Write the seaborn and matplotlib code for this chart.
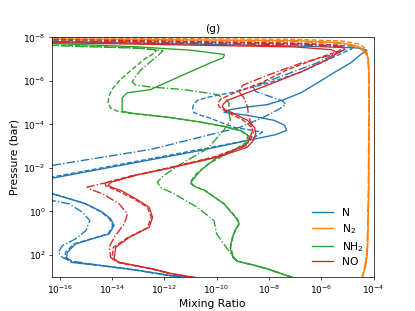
import numpy as np
import matplotlib
matplotlib.use("Agg")
import matplotlib.pyplot as plt
from matplotlib.lines import Line2D
import seaborn as sns

# ---- data: log10(pressure [bar]) and log10(mixing ratio) ----
species = ["N", "N$_2$", "NH$_2$", "NO"]
colors = ["#1f77b4", "#ff7f0e", "#2ca02c", "#d62728"]
x_tick_exps = [-16, -14, -12, -10, -8, -6, -4]
y_tick_exps = [-8, -6, -4, -2, 0, 2]

# N
N_solid_P = [-7.80, -7.58, -7.50, -7.40, -7.20, -6.82, -6.36, -5.90, -5.44, -5.13, -4.90, -4.78, -4.68, -4.55,
             -4.41, -4.18, -3.95, -3.72, -3.52, -3.36, -2.80, -1.50, -1.20, -0.85, -0.35, 0.04, 0.34, 0.65, 1.03,
             1.26, 1.49, 1.88, 2.11, 2.34, 2.49, 2.69, 2.95, 3.05]
N_solid_X = [-16.5, -6.5, -4.6, -4.25, -4.49, -4.87, -5.52, -6.14, -6.78, -7.43, -8.06, -8.9, -9.45, -9.72,
             -8.82, -7.80, -7.40, -7.32, -7.75, -8.40, -10.6, -16.4, -17.5, -16.4, -15.00, -14.36, -14.05, -13.92,
             -14.11, -14.75, -15.39, -15.71, -15.74, -15.51, -14.36, -13.09, -11.75, -10.9]
N_dash_P = [-7.85, -7.70, -7.58, -7.45, -7.09, -6.39, -5.88, -5.47, -5.24, -5.10, -4.90, -4.73, -4.55, -4.41,
            -4.32, -3.86, -3.64, -3.40, -3.26, -2.85, -1.55, -1.25, -0.87, -0.37, 0.04, 0.34, 0.65, 1.03, 1.26,
            1.49, 1.88, 2.11, 2.34, 2.49, 2.69, 2.95, 3.05]
N_dash_X = [-16.5, -6.5, -4.75, -4.85, -5.52, -6.78, -8.05, -9.35, -10.34, -10.73, -10.88, -10.92, -10.88, -10.61,
            -10.34, -9.35, -8.25, -8.55, -8.82, -10.6, -16.4, -17.5, -16.4, -15.05, -14.40, -14.10, -13.97, -14.15,
            -14.80, -15.45, -15.78, -15.80, -15.55, -14.40, -13.12, -11.78, -10.9]
N_dd_P = [-7.82, -7.68, -7.58, -7.45, -7.25, -6.80, -6.30, -5.95, -5.70, -5.50, -5.25, -5.05, -4.90, -4.70,
          -4.33, -3.87, -2.85, -2.11, -1.30, -0.50, -0.35, 0.04, 0.42, 0.88, 1.26, 1.57, 1.88, 2.11, 2.26, 2.49,
          2.69, 2.95, 3.05]
N_dd_X = [-16.5, -7.0, -5.2, -5.05, -5.4, -6.2, -7.3, -8.1, -8.6, -8.5, -7.9, -7.45, -7.36, -7.6,
          -8.19, -9.08, -12.5, -16.3, -18.0, -16.3, -15.64, -15.13, -14.85, -15.0, -15.39, -15.9, -16.05, -15.9,
          -15.64, -14.40, -13.10, -11.76, -10.9]

# N2
N2_solid_P = [-7.92, -7.84, -7.75, -7.62, -7.45, -7.25, -7.0, -6.5, -5.0, -3.0, -1.0, 0.5, 1.5, 2.0, 2.5, 2.8, 3.05]
N2_solid_X = [-16.5, -7.0, -5.3, -4.7, -4.4, -4.26, -4.2, -4.17, -4.16, -4.17, -4.18, -4.2, -4.22, -4.24, -4.3,
              -4.37, -4.43]
N2_dash_P = [-7.97, -7.90, -7.82, -7.70, -7.52, -7.30, -7.0, -6.5, -5.0, -3.0, -1.0, 0.5, 1.5, 2.0, 2.5, 2.8, 3.05]
N2_dash_X = [-16.5, -7.0, -5.2, -4.6, -4.35, -4.25, -4.2, -4.18, -4.17, -4.18, -4.19, -4.21, -4.23, -4.26, -4.32,
             -4.38, -4.44]
N2_dd_P = [-7.88, -7.80, -7.72, -7.58, -7.40, -7.20, -6.9, -6.5, -5.0, -3.0, -1.0, 0.5, 1.5, 2.0, 2.5, 2.8, 3.05]
N2_dd_X = [-16.5, -7.2, -5.4, -4.75, -4.42, -4.28, -4.22, -4.19, -4.18, -4.19, -4.2, -4.22, -4.24, -4.27, -4.33,
           -4.39, -4.45]

# NH2
NH2_solid_P = [-7.72, -7.55, -7.40, -7.28, -7.20, -7.05, -6.82, -6.28, -5.59, -5.44, -5.21, -4.59, -4.50, -4.33,
               -4.10, -3.90, -3.70, -3.45, -3.15, -2.95, -2.49, -1.88, -1.42, -1.28, -1.15, -0.96, -0.35, 0.27,
               0.55, 0.88, 1.19, 1.65, 2.11, 2.29, 2.49, 2.64, 3.05]
NH2_solid_X = [-16.5, -13.0, -11.0, -10.2, -9.7, -9.75, -10.23, -11.25, -12.53, -13.42, -13.61, -13.61, -13.18,
               -11.89, -10.61, -9.7, -9.05, -8.75, -8.8, -9.08, -9.97, -10.61, -10.93, -10.99, -10.85, -10.45,
               -9.72, -9.28, -9.14, -9.3, -9.4, -9.48, -9.38, -9.21, -8.5, -8.06, -7.05]
NH2_dash_P = [-7.65, -7.50, -7.40, -7.25, -6.97, -6.50, -6.05, -5.60, -5.28, -5.00, -4.75, -4.60, -4.50, -4.33,
              -4.10, -3.90, -3.70, -3.45, -3.15, -2.70, -2.20, -1.70, -1.35, -1.15, -0.96, -0.35, 0.27, 0.55,
              0.88, 1.19, 1.65, 2.11, 2.29, 2.49, 2.64, 3.05]
NH2_dash_X = [-16.5, -13.0, -12.3, -12.4, -12.78, -13.25, -13.68, -14.0, -14.12, -14.15, -14.06, -13.8, -13.3,
              -11.95, -10.65, -9.72, -9.08, -8.8, -8.9, -9.5, -10.3, -10.8, -11.0, -10.85, -10.45, -9.72, -9.25,
              -9.12, -9.28, -9.38, -9.46, -9.36, -9.19, -8.5, -8.06, -7.05]
NH2_dd_P = [-7.62, -7.48, -7.38, -7.20, -6.48, -6.10, -5.94, -5.80, -5.71, -5.59, -5.36, -5.15, -4.98, -4.49,
            -4.20, -3.72, -2.88, -2.26, -1.65, -1.34, -1.10, -0.81, -0.19, 0.42, 1.03, 1.72, 2.11, 2.29, 2.49,
            2.64, 3.05]
NH2_dd_X = [-16.5, -12.8, -12.05, -12.2, -12.91, -13.15, -13.23, -13.1, -12.53, -11.25, -9.97, -9.65, -9.53,
            -9.53, -9.47, -9.73, -10.35, -11.25, -12.02, -12.27, -12.14, -11.63, -10.74, -10.10, -10.0, -9.59,
            -9.34, -9.21, -8.5, -8.06, -7.05]

# NO
NO_solid_P = [-7.75, -7.55, -7.42, -7.30, -7.10, -6.78, -6.40, -5.79, -5.33, -5.10, -4.92, -4.79, -4.65, -4.56,
              -4.18, -3.85, -3.57, -3.25, -2.95, -2.49, -1.96, -1.65, -1.34, -1.19, -1.08, -0.96, -0.58, -0.19,
              0.27, 0.73, 1.19, 1.65, 2.18, 2.34, 2.64, 2.85, 3.05]
NO_solid_X = [-16.5, -7.0, -5.6, -5.4, -5.55, -6.1, -6.78, -8.06, -9.08, -9.59, -9.75, -9.78, -9.65, -9.46,
              -8.82, -8.55, -8.50, -8.6, -8.82, -9.97, -11.89, -13.16, -14.06, -14.15, -13.95, -13.66, -13.09,
              -12.58, -12.45, -12.58, -13.34, -13.86, -13.92, -13.73, -12.45, -11.75, -10.75]
NO_dash_P = [-7.90, -7.72, -7.62, -7.52, -7.35, -7.00, -6.50, -5.90, -5.45, -5.15, -4.95, -4.80, -4.55, -4.20,
             -3.85, -3.60, -3.30, -3.00, -2.50, -1.95, -1.62, -1.32, -1.18, -1.05, -0.95, -0.60, -0.20, 0.27,
             0.75, 1.20, 1.65, 2.15, 2.34, 2.64, 2.86, 3.05]
NO_dash_X = [-16.5, -7.0, -5.3, -5.15, -5.35, -6.2, -7.3, -8.3, -9.3, -9.85, -9.95, -9.9, -9.6, -9.0,
             -8.65, -8.6, -8.7, -8.95, -10.1, -12.0, -13.3, -14.25, -14.25, -14.0, -13.8, -13.2, -12.65, -12.5,
             -12.65, -13.4, -13.95, -14.0, -13.8, -12.5, -11.8, -10.8]
NO_dd_P = [-7.80, -7.65, -7.55, -7.45, -7.25, -6.80, -6.25, -5.79, -5.50, -5.20, -4.80, -4.41, -3.72, -3.03,
           -2.50, -1.95, -1.65, -1.42, -1.22, -1.11, -1.00, -0.81, -0.35, 0.11, 0.57, 1.19, 1.65, 2.11, 2.34,
           2.64, 2.85, 3.05]
NO_dd_X = [-16.5, -7.0, -5.3, -5.1, -5.4, -6.78, -8.05, -9.0, -9.15, -8.95, -8.82, -8.78, -8.62, -8.85,
           -10.0, -12.0, -13.1, -13.8, -14.6, -14.95, -14.8, -14.36, -13.73, -13.41, -13.53, -13.92, -14.11,
           -14.05, -13.73, -12.45, -11.75, -10.75]

curves = [
    (0, "-", N_solid_P, N_solid_X), (0, "--", N_dash_P, N_dash_X), (0, "-.", N_dd_P, N_dd_X),
    (1, "-", N2_solid_P, N2_solid_X), (1, "--", N2_dash_P, N2_dash_X), (1, "-.", N2_dd_P, N2_dd_X),
    (2, "-", NH2_solid_P, NH2_solid_X), (2, "--", NH2_dash_P, NH2_dash_X), (2, "-.", NH2_dd_P, NH2_dd_X),
    (3, "-", NO_solid_P, NO_solid_X), (3, "--", NO_dash_P, NO_dash_X), (3, "-.", NO_dd_P, NO_dd_X),
]

DPI = 415 / 6.4
fig, ax = plt.subplots(figsize=(6.4, 4.8), dpi=DPI)

for idx, ls, P, X in curves:
    sns.lineplot(x=10.0 ** np.array(X), y=10.0 ** np.array(P), sort=False, estimator=None,
                 color=colors[idx], linestyle=ls, linewidth=1.5, ax=ax)

ax.set_xscale("log")
ax.set_yscale("log")
ax.set_xlim(10 ** -16.3, 1e-4)
ax.set_ylim(1e3, 1e-8)
ax.set_xticks([10.0 ** e for e in x_tick_exps])
ax.set_yticks([10.0 ** e for e in y_tick_exps])
ax.minorticks_off()
ax.tick_params(labelsize=10)
ax.set_xlabel("Mixing Ratio", fontsize=12)
ax.set_ylabel("Pressure (bar)", fontsize=12)
ax.set_title("(g)", fontsize=12)

handles = [Line2D([0], [0], color=c, lw=1.5) for c in colors]
ax.legend(handles, species, loc="lower right", frameon=False, fontsize=12, labelspacing=0.35)

fig.savefig("out.png", dpi=DPI)
